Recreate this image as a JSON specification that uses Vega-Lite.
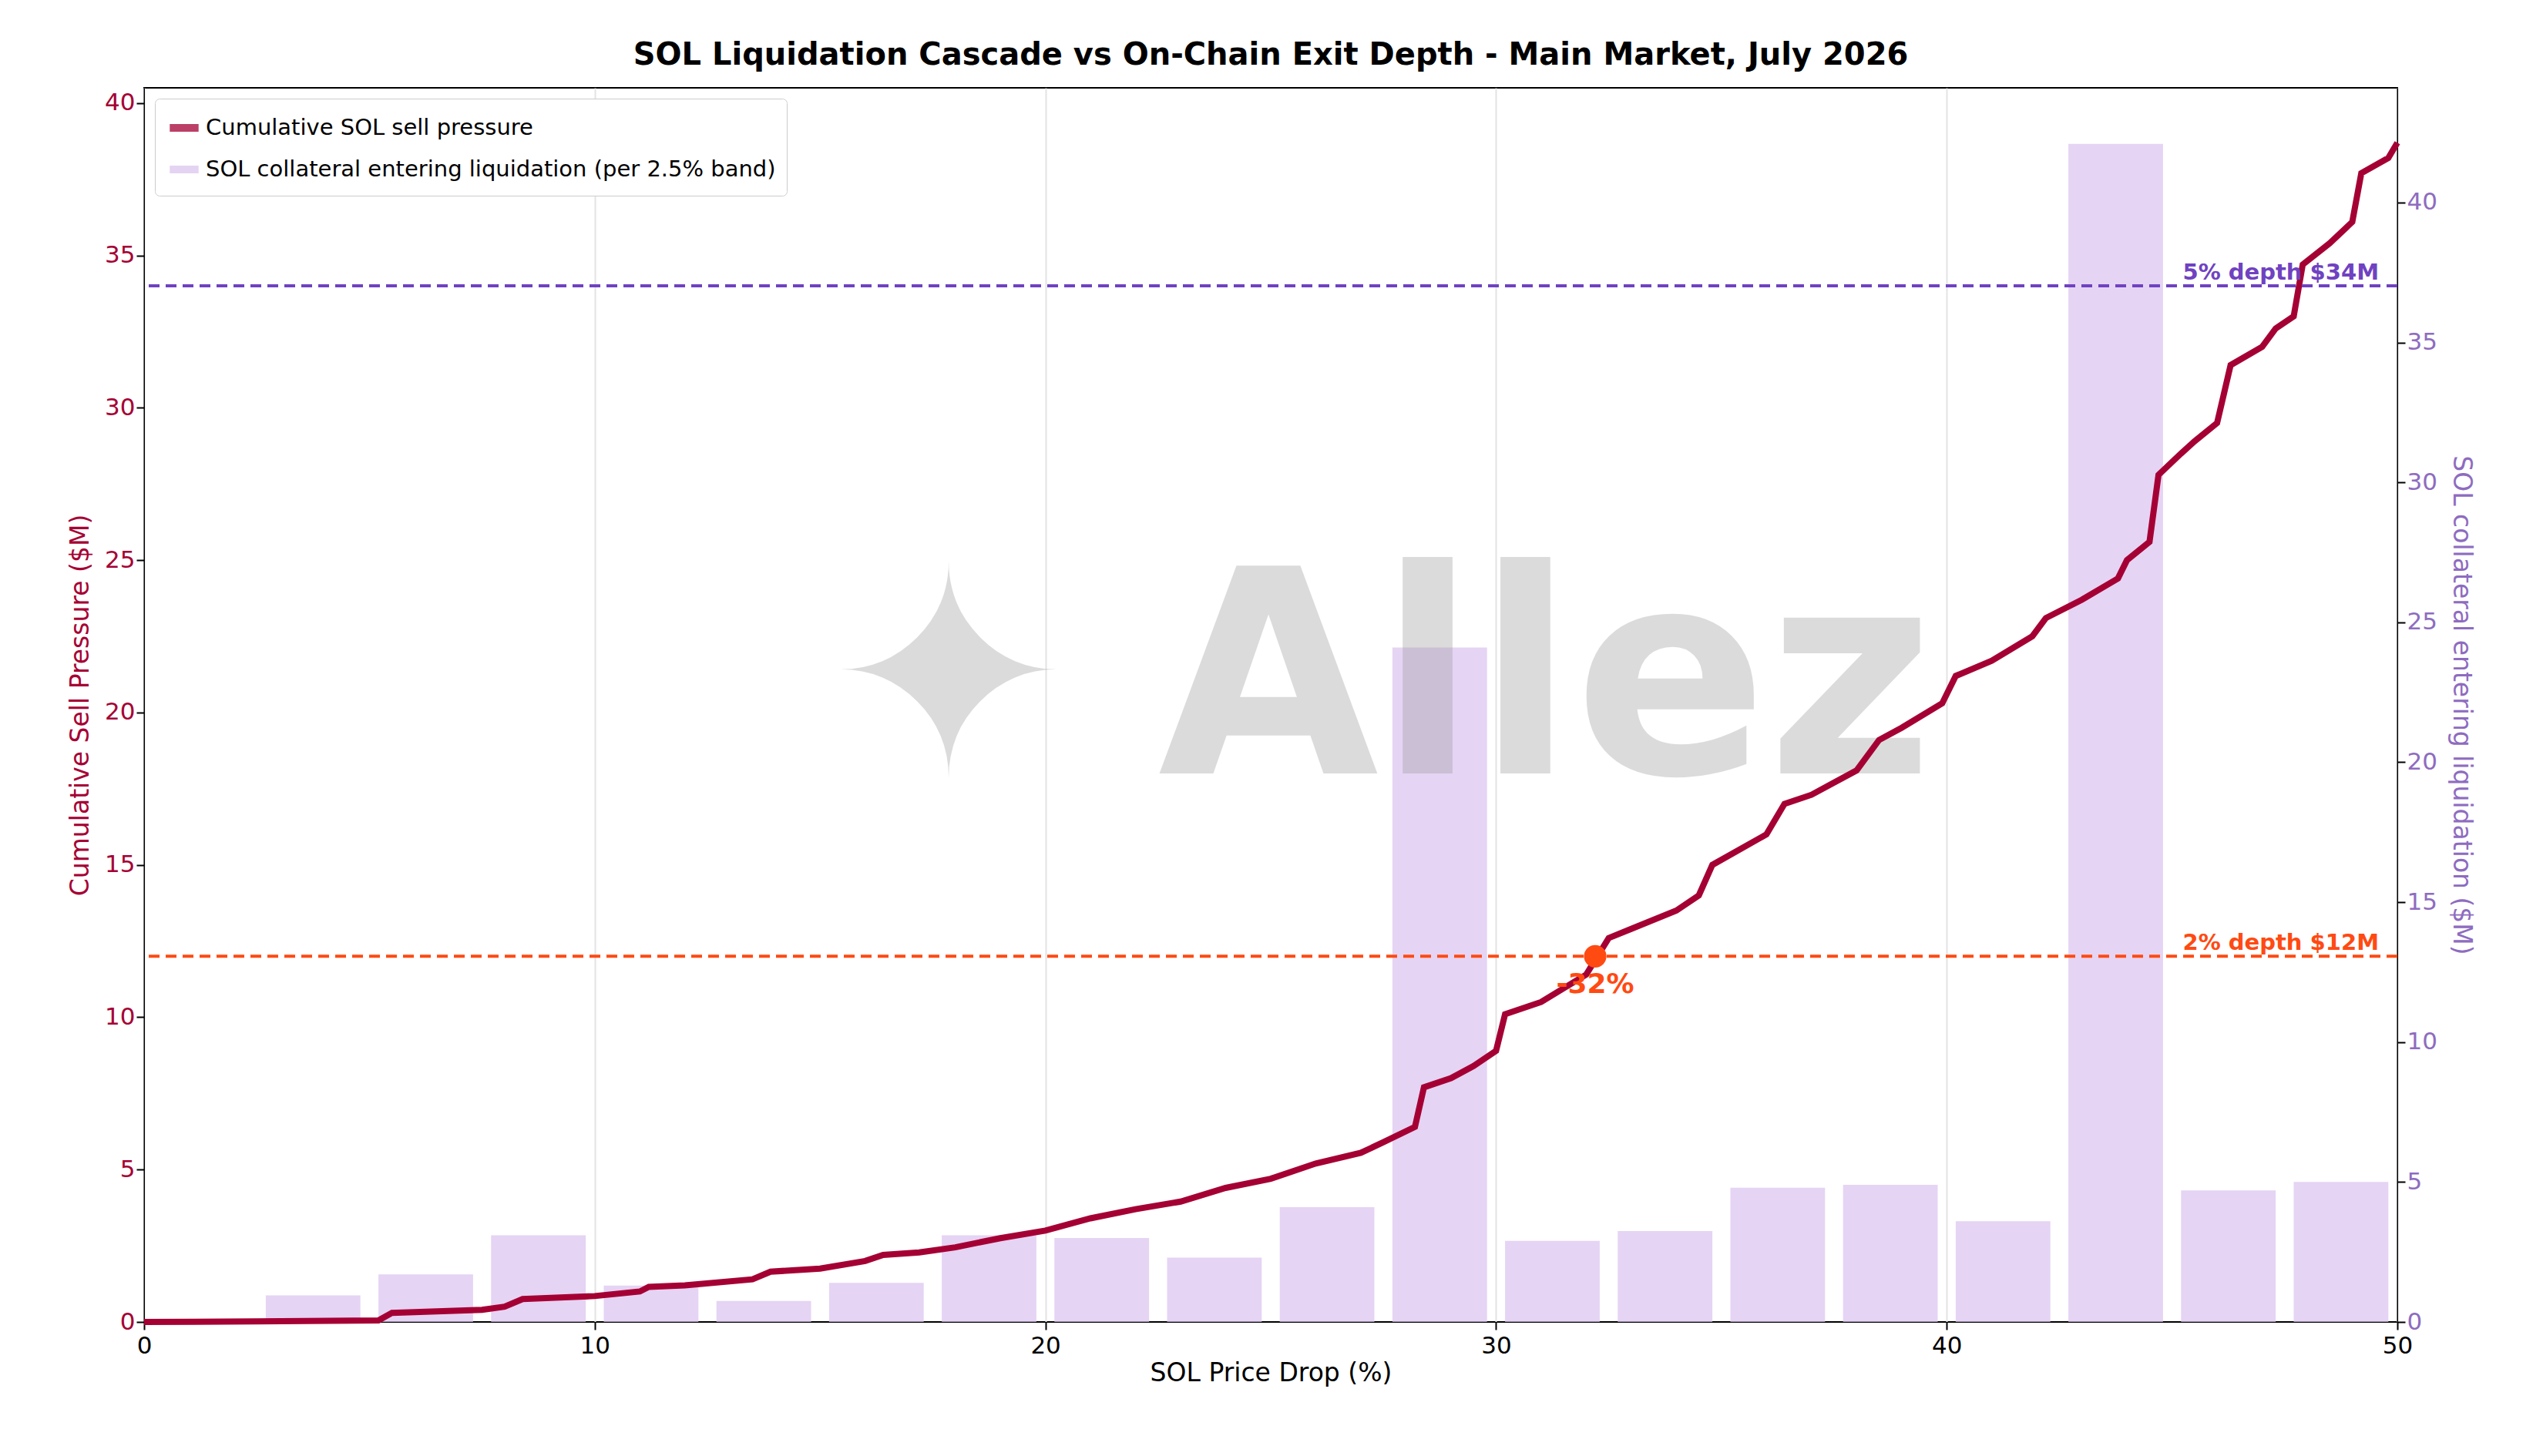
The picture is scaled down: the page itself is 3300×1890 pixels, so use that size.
{
  "$schema": "https://vega.github.io/schema/vega-lite/v6.json",
  "autosize": {"type": "none"},
  "width": 2924,
  "height": 1602,
  "padding": {"left": 187, "top": 114, "right": 189, "bottom": 174},
  "background": "white",
  "config": {
    "font": "DejaVu Sans",
    "view": {"stroke": "black", "strokeWidth": 2},
    "axis": {"labelFontSize": 31, "titleFontSize": 33, "titleFontWeight": "normal", "tickSize": 10, "tickWidth": 2, "domainColor": "black", "tickColor": "black", "labelColor": "black", "titleColor": "black", "gridColor": "#e3e3e3", "gridWidth": 2, "format": "d", "labelFlush": false}
  },
  "title": {"text": "SOL Liquidation Cascade vs On-Chain Exit Depth - Main Market, July 2026", "fontSize": 40, "fontWeight": "bold", "offset": 22},
  "datasets": {
    "bands": [
      {"x0": 2.7, "x1": 4.8, "v": 0.95},
      {"x0": 5.2, "x1": 7.3, "v": 1.7},
      {"x0": 7.7, "x1": 9.8, "v": 3.1},
      {"x0": 10.2, "x1": 12.3, "v": 1.3},
      {"x0": 12.7, "x1": 14.8, "v": 0.75},
      {"x0": 15.2, "x1": 17.3, "v": 1.4},
      {"x0": 17.7, "x1": 19.8, "v": 3.1},
      {"x0": 20.2, "x1": 22.3, "v": 3.0},
      {"x0": 22.7, "x1": 24.8, "v": 2.3},
      {"x0": 25.2, "x1": 27.3, "v": 4.1},
      {"x0": 27.7, "x1": 29.8, "v": 24.1},
      {"x0": 30.2, "x1": 32.3, "v": 2.9},
      {"x0": 32.7, "x1": 34.8, "v": 3.25},
      {"x0": 35.2, "x1": 37.3, "v": 4.8},
      {"x0": 37.7, "x1": 39.8, "v": 4.9},
      {"x0": 40.2, "x1": 42.3, "v": 3.6},
      {"x0": 42.7, "x1": 44.8, "v": 42.1},
      {"x0": 45.2, "x1": 47.3, "v": 4.7},
      {"x0": 47.7, "x1": 49.8, "v": 5.0}
    ],
    "cum": [
      {"x": 0, "y": 0}, {"x": 2.5, "y": 0.02}, {"x": 5.2, "y": 0.05}, {"x": 5.5, "y": 0.3},
      {"x": 7.5, "y": 0.4}, {"x": 8.0, "y": 0.5}, {"x": 8.4, "y": 0.75}, {"x": 10.0, "y": 0.85},
      {"x": 11.0, "y": 1.0}, {"x": 11.2, "y": 1.15}, {"x": 12.0, "y": 1.2}, {"x": 13.5, "y": 1.4},
      {"x": 13.9, "y": 1.65}, {"x": 15.0, "y": 1.75}, {"x": 16.0, "y": 2.0}, {"x": 16.4, "y": 2.2},
      {"x": 17.2, "y": 2.28}, {"x": 18.0, "y": 2.45}, {"x": 19.0, "y": 2.75}, {"x": 20.0, "y": 3.0},
      {"x": 21.0, "y": 3.4}, {"x": 22.0, "y": 3.7}, {"x": 23.0, "y": 3.95}, {"x": 24.0, "y": 4.4},
      {"x": 25.0, "y": 4.7}, {"x": 26.0, "y": 5.2}, {"x": 27.0, "y": 5.55}, {"x": 27.5, "y": 5.9},
      {"x": 28.2, "y": 6.4}, {"x": 28.4, "y": 7.7}, {"x": 29.0, "y": 8.0}, {"x": 29.5, "y": 8.4},
      {"x": 30.0, "y": 8.9}, {"x": 30.2, "y": 10.1}, {"x": 31.0, "y": 10.5}, {"x": 32.0, "y": 11.4},
      {"x": 32.5, "y": 12.6}, {"x": 33.0, "y": 12.9}, {"x": 34.0, "y": 13.5}, {"x": 34.5, "y": 14.0},
      {"x": 34.8, "y": 15.0}, {"x": 36.0, "y": 16.0}, {"x": 36.4, "y": 17.0}, {"x": 37.0, "y": 17.3},
      {"x": 38.0, "y": 18.1}, {"x": 38.5, "y": 19.1}, {"x": 39.0, "y": 19.5}, {"x": 39.9, "y": 20.3},
      {"x": 40.2, "y": 21.2}, {"x": 41.0, "y": 21.7}, {"x": 41.9, "y": 22.5}, {"x": 42.2, "y": 23.1},
      {"x": 43.0, "y": 23.7}, {"x": 43.8, "y": 24.4}, {"x": 44.0, "y": 25.0}, {"x": 44.5, "y": 25.6},
      {"x": 44.7, "y": 27.8}, {"x": 45.2, "y": 28.5}, {"x": 45.5, "y": 28.9}, {"x": 46.0, "y": 29.5},
      {"x": 46.3, "y": 31.4}, {"x": 47.0, "y": 32.0}, {"x": 47.3, "y": 32.6}, {"x": 47.7, "y": 33.0},
      {"x": 47.9, "y": 34.7}, {"x": 48.5, "y": 35.4}, {"x": 49.0, "y": 36.1}, {"x": 49.2, "y": 37.7},
      {"x": 49.8, "y": 38.2}, {"x": 50.0, "y": 38.7}
    ]
  },
  "resolve": {"scale": {"y": "independent", "color": "shared"}},
  "layer": [
    {
      "data": {"name": "bands"},
      "mark": {"type": "rect", "opacity": 0.75},
      "encoding": {
        "x": {"field": "x0", "type": "quantitative", "scale": {"domain": [0, 50], "nice": false}, "axis": {"values": [0, 10, 20, 30, 40, 50], "title": "SOL Price Drop (%)", "grid": true, "labelPadding": 6}},
        "x2": {"field": "x1"},
        "y": {"field": "v", "type": "quantitative", "scale": {"domain": [0, 44.1], "nice": false}, "axis": {"orient": "right", "grid": false, "values": [0, 5, 10, 15, 20, 25, 30, 35, 40], "title": "SOL collateral entering liquidation ($M)", "labelColor": "#8e6cc0", "titleColor": "#8e6cc0", "titlePadding": 14}},
        "y2": {"datum": 0},
        "color": {"datum": "SOL collateral entering liquidation (per 2.5% band)", "type": "nominal"}
      }
    },
    {
      "layer": [
        {
          "data": {"values": [{"x": 15.2, "y": 18, "t": "✦"}, {"x": 22.5, "y": 18, "t": "Allez"}]},
          "mark": {"type": "text", "align": "left", "baseline": "alphabetic", "fontSize": 370, "fontWeight": "bold", "color": "#9a9a9a", "opacity": 0.35},
          "encoding": {"x": {"field": "x", "type": "quantitative"}, "y": {"field": "y", "type": "quantitative"}, "text": {"field": "t"}}
        },
        {
          "data": {"name": "cum"},
          "mark": {"type": "line", "strokeWidth": 8, "color": "#a50034"},
          "encoding": {
            "x": {"field": "x", "type": "quantitative"},
            "y": {"field": "y", "type": "quantitative", "scale": {"domain": [0, 40.5], "nice": false}, "axis": {"orient": "left", "values": [0, 5, 10, 15, 20, 25, 30, 35, 40], "title": "Cumulative Sell Pressure ($M)", "labelColor": "#a50034", "titleColor": "#a50034", "titlePadding": 14}},
            "color": {"datum": "Cumulative SOL sell pressure", "type": "nominal", "scale": {"domain": ["Cumulative SOL sell pressure", "SOL collateral entering liquidation (per 2.5% band)"], "range": ["#a50034", "#dcc5f0"]}, "legend": {"orient": "top-left", "title": null, "titleFontSize": 0, "titlePadding": 0, "symbolType": "stroke", "symbolStrokeWidth": 10, "symbolSize": 1400, "labelFontSize": 29, "labelLimit": 2000, "strokeColor": "#cccccc", "fillColor": "white", "padding": 14, "cornerRadius": 6, "offset": 14, "rowPadding": 10}}
          }
        },
        {
          "data": {"values": [{"y": 34, "c": "#6f42c1"}, {"y": 12, "c": "#ff4a12"}]},
          "mark": {"type": "rule", "strokeWidth": 4, "strokeDash": [14, 8]},
          "encoding": {"y": {"field": "y", "type": "quantitative"}, "color": {"field": "c", "type": "nominal", "scale": null}}
        },
        {
          "data": {"values": [{"x": 50, "y": 34, "t": "5% depth $34M", "c": "#6f42c1"}, {"x": 50, "y": 12, "t": "2% depth $12M", "c": "#ff4a12"}]},
          "mark": {"type": "text", "align": "right", "baseline": "bottom", "dx": -24, "dy": -2, "fontSize": 29, "fontWeight": "bold"},
          "encoding": {"x": {"field": "x", "type": "quantitative"}, "y": {"field": "y", "type": "quantitative"}, "text": {"field": "t"}, "color": {"field": "c", "type": "nominal", "scale": null}}
        },
        {
          "data": {"values": [{"x": 32.2, "y": 12}]},
          "mark": {"type": "point", "filled": true, "opacity": 1, "size": 850, "color": "#ff4a12"},
          "encoding": {"x": {"field": "x", "type": "quantitative"}, "y": {"field": "y", "type": "quantitative"}}
        },
        {
          "data": {"values": [{"x": 32.2, "y": 12, "t": "-32%"}]},
          "mark": {"type": "text", "baseline": "top", "dy": 20, "fontSize": 36, "fontWeight": "bold", "color": "#ff4a12"},
          "encoding": {"x": {"field": "x", "type": "quantitative"}, "y": {"field": "y", "type": "quantitative"}, "text": {"field": "t"}}
        }
      ]
    }
  ]
}
